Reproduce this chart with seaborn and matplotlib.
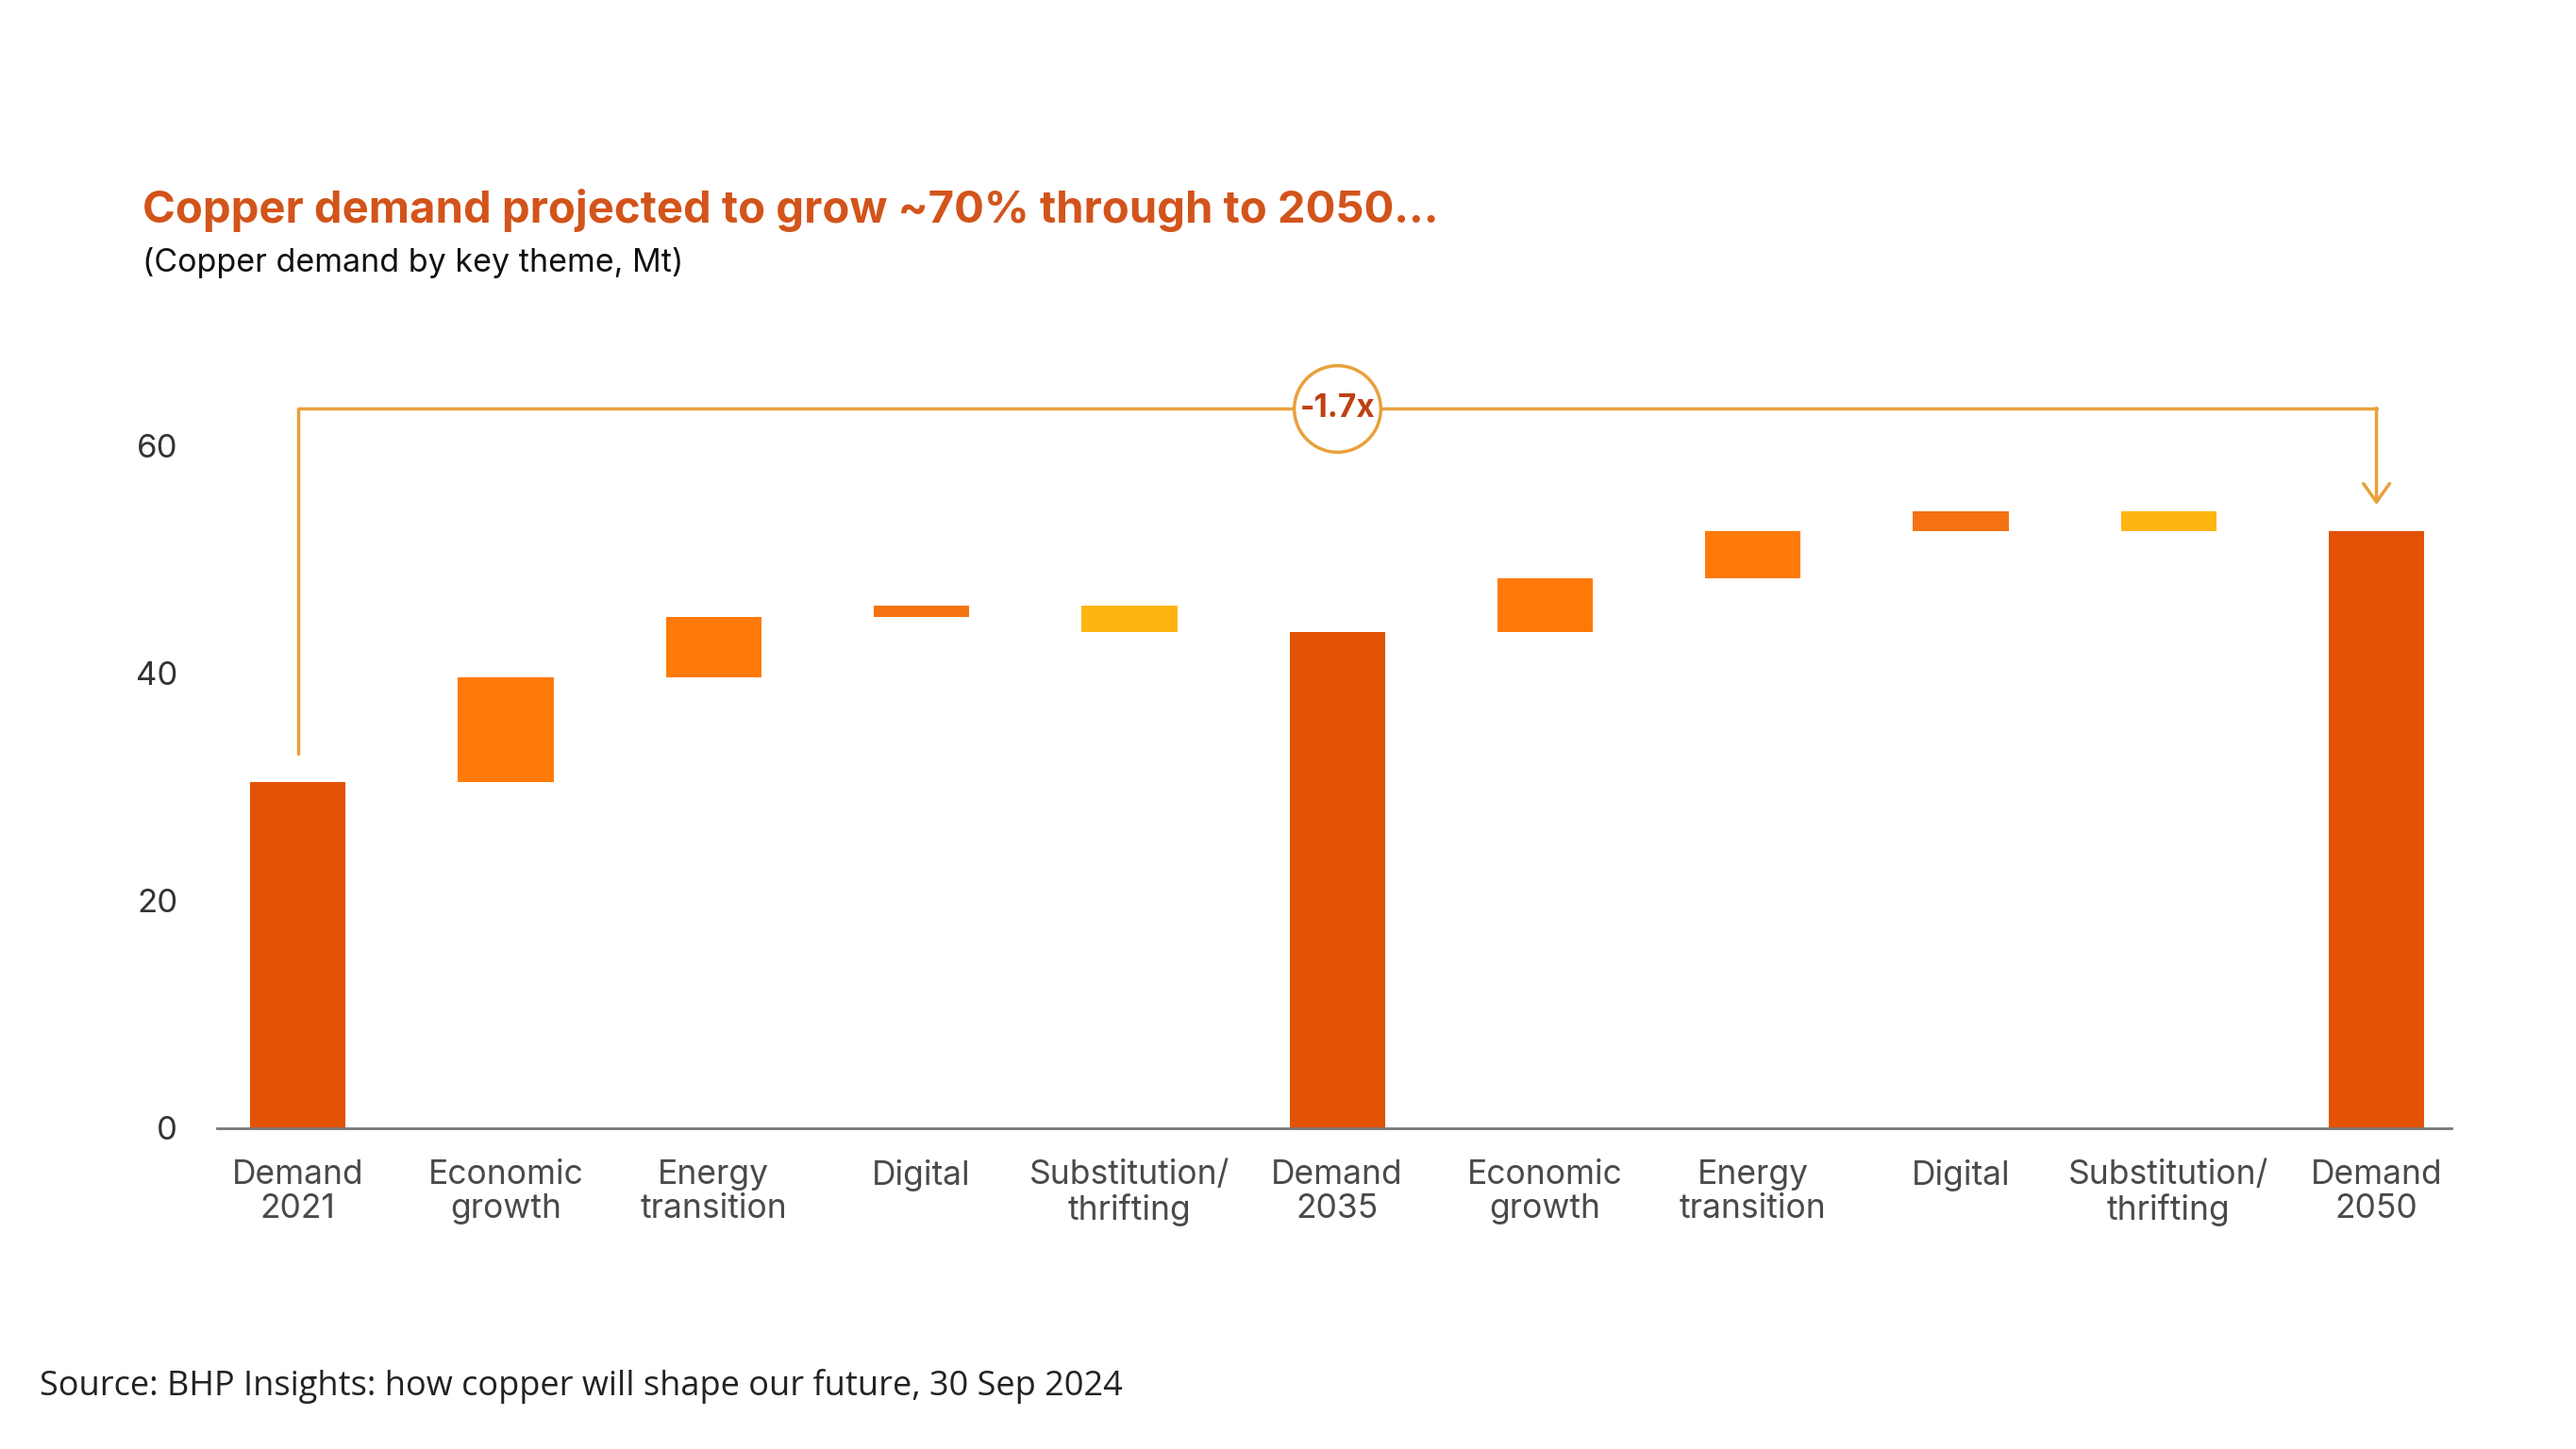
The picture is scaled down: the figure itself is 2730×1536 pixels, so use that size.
import pandas as pd
import seaborn as sns
import matplotlib.pyplot as plt

# Waterfall data (Mt)
labels = ["Demand\n2021", "Economic\ngrowth", "Energy\ntransition", "Digital", "Substitution/\nthrifting",
          "Demand\n2035", "Economic\ngrowth", "Energy\ntransition", "Digital", "Substitution/\nthrifting",
          "Demand\n2050"]
kinds = ["total", "growth", "growth", "digital", "subst",
         "total", "growth", "growth", "digital", "subst",
         "total"]
values = [30.4, 9.2, 5.3, 1.0, -2.3, 43.6, 4.7, 4.2, 1.7, -1.7, 52.5]
yticks = [0, 20, 40, 60]
multiple_label = "-1.7x"

colors = {"total": "#E35205", "growth": "#FF7A08", "digital": "#F57212", "subst": "#FFB511"}
gold = "#E9A03B"

# build bottoms/heights for the floating bars
bottoms, heights = [], []
running = 0
for k, v in zip(kinds, values):
    if k == "total":
        bottoms.append(0)
        heights.append(v)
        running = v
    else:
        bottoms.append(running + min(v, 0))
        heights.append(abs(v))
        running += v

df = pd.DataFrame({"step": range(len(labels)), "height": heights, "bottom": bottoms})

sns.set_theme(style="white")
plt.rcParams["font.family"] = ["Inter", "DejaVu Sans"]

fig = plt.figure(figsize=(27.3, 15.36), dpi=100)
ax = fig.add_axes([0.0842, 0.2214, 0.8674, 0.5496])

sns.barplot(data=df, x="step", y="height", bottom=df["bottom"].tolist(), width=0.46,
            color=colors["total"], errorbar=None, linewidth=0, ax=ax)
for patch, k in zip(ax.patches, kinds):
    patch.set_facecolor(colors[k])

ax.set_ylim(0, 70)
ax.set_xlim(-0.39, 10.36)
ax.set_yticks(yticks)
ax.set_yticklabels([str(t) for t in yticks], fontsize=25, color="#333333")
ax.set_xticks(range(len(labels)))
ax.set_xticklabels(labels, fontsize=25.5, color="#4a4a4a", linespacing=1.12)
ax.tick_params(axis="y", length=0, pad=30)
ax.tick_params(axis="x", length=0, pad=24)
ax.set_xlabel("")
ax.set_ylabel("")
for s in ["left", "right", "top"]:
    ax.spines[s].set_visible(False)
ax.spines["bottom"].set_color("#777777")
ax.spines["bottom"].set_linewidth(2)

# growth bracket 2021 -> 2050
y_br = 63.3
ax.plot([0, 0, 10], [32.9, y_br, y_br], color=gold, lw=2.5, clip_on=False, zorder=3)
ax.annotate("", xy=(10, 54.8), xytext=(10, y_br),
            arrowprops=dict(arrowstyle="->,head_length=0.35,head_width=0.25", mutation_scale=40,
                            color=gold, lw=2.5, shrinkA=0, shrinkB=0), annotation_clip=False)
ax.plot([5], [y_br], marker="o", markersize=66, markerfacecolor="white",
        markeredgecolor=gold, markeredgewidth=2.5, clip_on=False, zorder=4)
ax.text(5, y_br, multiple_label, ha="center", va="center", fontsize=24, fontweight="bold",
        color="#BE4012", zorder=5)

fig.text(0.0553, 0.855, "Copper demand projected to grow ~70% through to 2050...",
         fontsize=34, fontweight="bold", color="#D2541B", va="center", ha="left")
fig.text(0.0553, 0.8186, "(Copper demand by key theme, Mt)", fontsize=24.5, color="#111111",
         va="center", ha="left")
fig.text(0.0154, 0.0436, "Source: BHP Insights: how copper will shape our future, 30 Sep 2024",
         fontsize=26, color="#222222", va="center", ha="left", family=["Open Sans", "DejaVu Sans"])

fig.savefig("out.png", dpi=100, facecolor="white")
